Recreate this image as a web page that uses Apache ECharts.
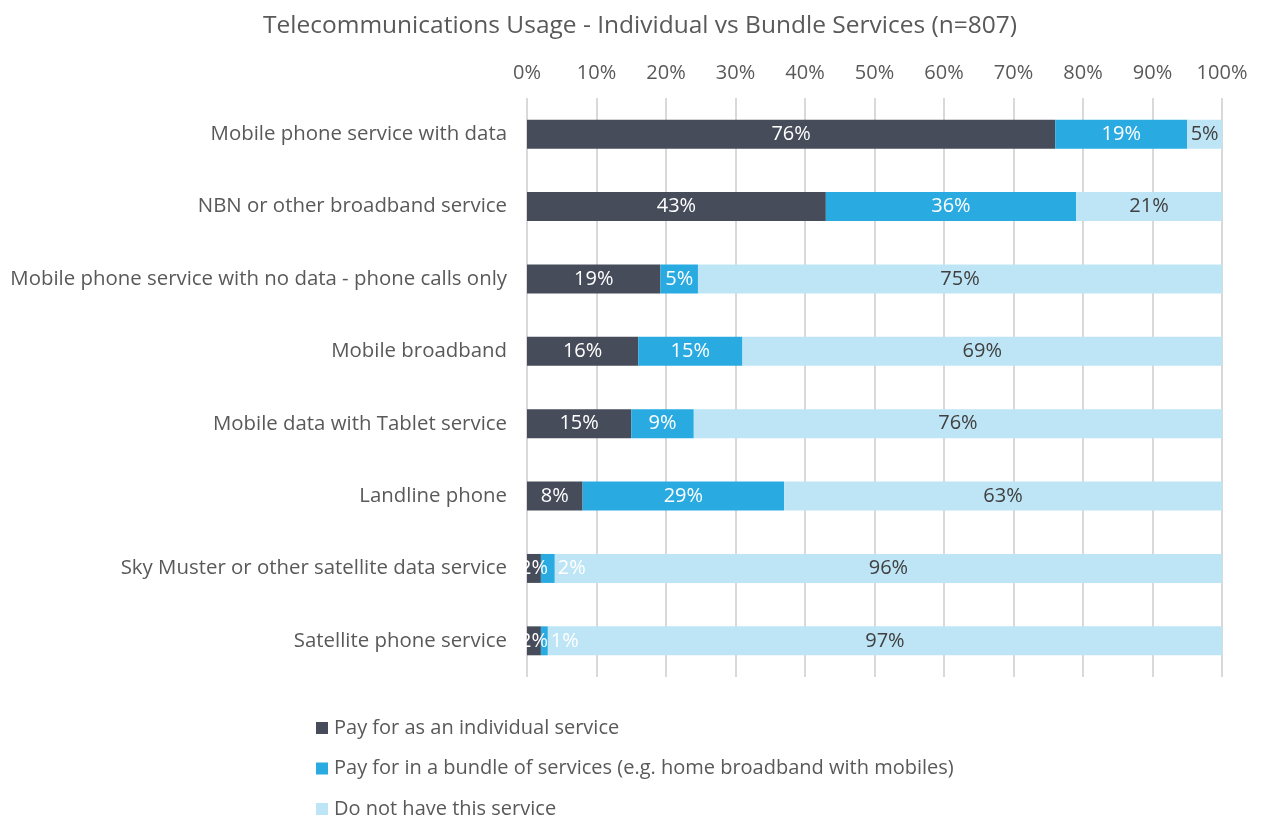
<!DOCTYPE html>
<html>
<head>
<meta charset="utf-8">
<style>
  html, body { margin: 0; padding: 0; background: #fff; }
  #chart { width: 1264px; height: 821px; }
</style>
<script src="https://cdn.jsdelivr.net/npm/echarts@6/dist/echarts.min.js"></script>
</head>
<body>
<div id="chart"></div>
<script>
// Survey services (top to bottom)
const categories = [
  'Mobile phone service with data',
  'NBN or other broadband service',
  'Mobile phone service with no data - phone calls only',
  'Mobile broadband',
  'Mobile data with Tablet service',
  'Landline phone',
  'Sky Muster or other satellite data service',
  'Satellite phone service'
];

// Share of respondents (%); labels show the rounded value
const individualValues = [76, 43, 19.2, 16, 15, 8, 2, 2];
const bundleValues     = [19, 36, 5.4, 15, 9, 29, 2, 1];
const noServiceValues  = [5, 21, 75.4, 69, 76, 63, 96, 97];

const seriesNames = [
  'Pay for as an individual service',
  'Pay for in a bundle of services (e.g. home broadband with mobiles)',
  'Do not have this service'
];

const axisTicks = [0, 10, 20, 30, 40, 50, 60, 70, 80, 90, 100];

const FONT = '"Open Sans", "Noto Sans", sans-serif';
const colors = ['#464c5a', '#29abe2', '#bee5f6'];

const chart = echarts.init(document.getElementById('chart'));

function makeSeries(name, values, idx) {
  const textColor = idx === 2 ? '#404040' : '#ffffff';
  return {
    name: name,
    type: 'bar',
    stack: 'total',
    barWidth: '40%',
    itemStyle: { color: colors[idx] },
    label: {
      show: true,
      position: 'inside',
      formatter: p => Math.round(p.value) + '%',
      color: textColor,
      fontFamily: FONT,
      fontSize: 20
    },
    emphasis: { disabled: true },
    data: values.map(v => {
      // narrow bundle segments carry their label just beyond the segment
      if (idx === 1 && v < 3) {
        return { value: v, label: { position: 'right', distance: 3 } };
      }
      return v;
    })
  };
}

chart.setOption({
  animation: false,
  textStyle: { fontFamily: FONT },
  title: {
    text: 'Telecommunications Usage - Individual vs Bundle Services (n=807)',
    left: 635,
    top: 9,
    textAlign: 'center',
    textStyle: { fontFamily: FONT, fontSize: 24.5, fontWeight: 'normal', color: '#595959' }
  },
  legend: {
    orient: 'vertical',
    left: 316,
    top: 718,
    height: 103,
    padding: 0,
    itemGap: 20.5,
    itemWidth: 12,
    itemHeight: 12,
    icon: 'rect',
    textStyle: { fontFamily: FONT, fontSize: 20, color: '#595959', padding: [0, 0, 0, 1] },
    data: seriesNames
  },
  grid: { left: 527, right: 42, top: 98, bottom: 144, containLabel: false },
  xAxis: {
    type: 'value',
    position: 'top',
    min: 0,
    max: 100,
    interval: 10,
    axisLine: { show: false },
    axisTick: { show: false },
    axisLabel: {
      margin: 15,
      fontFamily: FONT,
      fontSize: 20,
      color: '#595959',
      formatter: v => axisTicks.indexOf(v) >= 0 ? v + '%' : ''
    },
    splitLine: { show: true, lineStyle: { color: '#d9d9d9', width: 2 } }
  },
  yAxis: {
    type: 'category',
    inverse: true,
    data: categories,
    axisLine: { show: false },
    axisTick: { show: false },
    axisLabel: { margin: 20, fontFamily: FONT, fontSize: 20.4, color: '#595959' }
  },
  series: [
    makeSeries(seriesNames[0], individualValues, 0),
    makeSeries(seriesNames[1], bundleValues, 1),
    makeSeries(seriesNames[2], noServiceValues, 2)
  ]
});
</script>
</body>
</html>
